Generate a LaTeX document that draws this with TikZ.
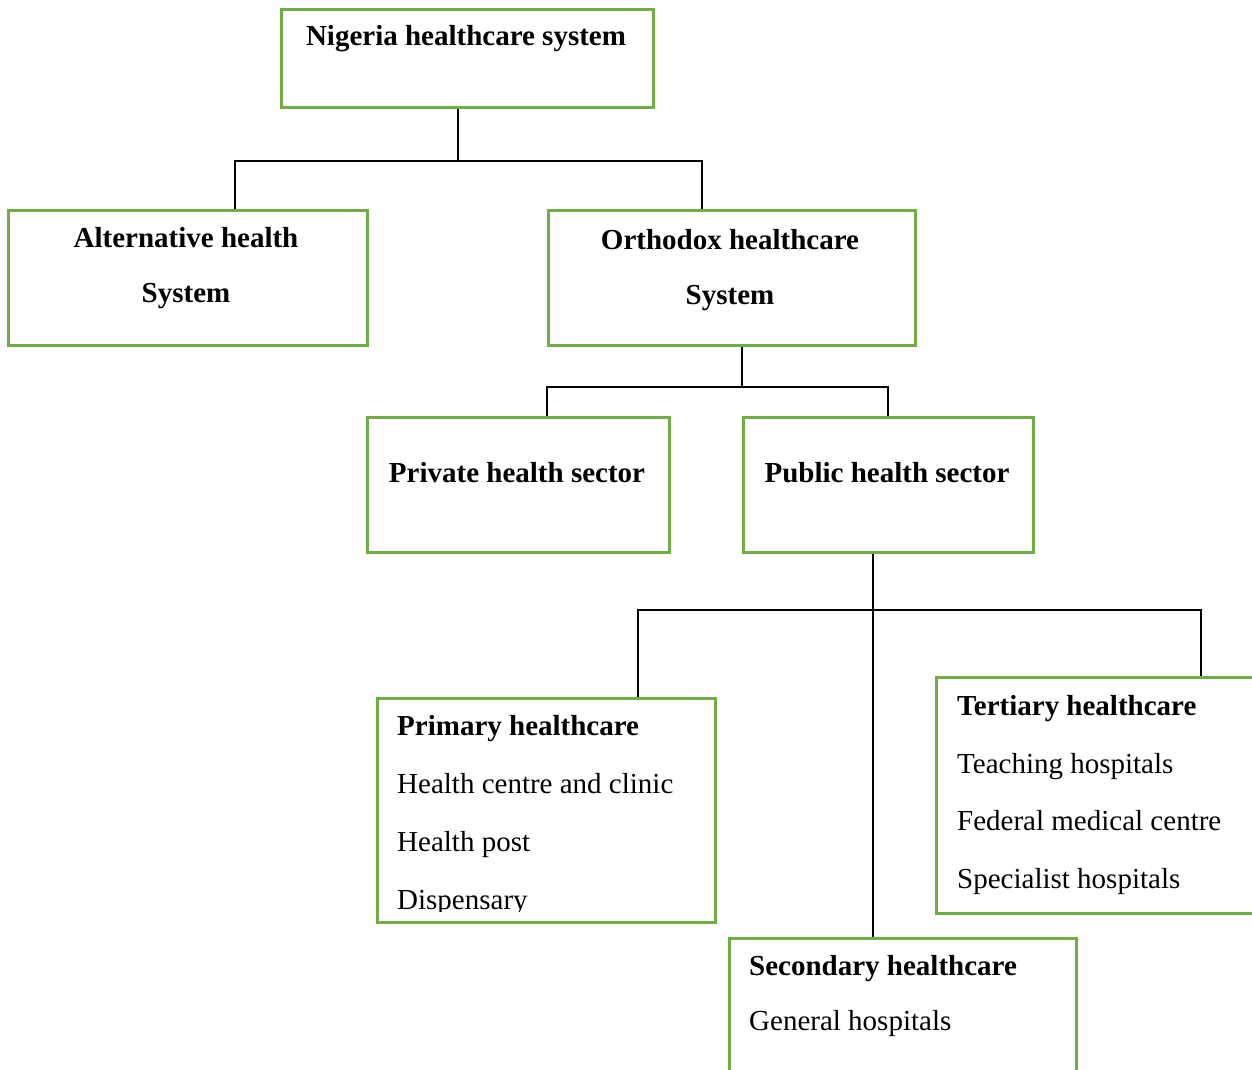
\documentclass[tikz,border=0pt]{standalone}
\usepackage{fontspec}
\setmainfont{Liberation Serif}
\definecolor{boxgreen}{HTML}{70AD47}
\begin{document}
\begin{tikzpicture}[x=1pt,y=-1pt,
  box/.style={draw=boxgreen,line width=2.6pt,rectangle,inner sep=0pt,anchor=north west},
  link/.style={draw=black,line width=1.3pt},
  head/.style={font=\fontsize{29}{34}\selectfont\bfseries,inner sep=0pt,anchor=base},
  item/.style={font=\fontsize{29}{34}\selectfont,inner sep=0pt,anchor=base west},
  headl/.style={head,anchor=base west}]
\useasboundingbox (0,0) rectangle (1252,1070);

% boxes
\node[box,minimum width=372pt,minimum height=98pt] (top) at (280,8) {};
\node[box,minimum width=359pt,minimum height=135pt] (alt) at (7,209) {};
\node[box,minimum width=367pt,minimum height=135pt] (ortho) at (547,209) {};
\node[box,minimum width=302pt,minimum height=135pt] (priv) at (366,416) {};
\node[box,minimum width=290pt,minimum height=135pt] (pub) at (742,416) {};
\node[box,minimum width=338pt,minimum height=224pt] (prim) at (376,697) {};
\node[box,minimum width=330pt,minimum height=236pt] (tert) at (935,676) {};
\node[box,minimum width=347pt,minimum height=150pt] (sec) at (728,937) {};

% box texts
\node[head] (ttop) at (466,46) {Nigeria healthcare system};
\node[head] (talt1) at (186,247) {Alternative health};
\node[head] (talt2) at (186,302) {System};
\node[head] (tortho1) at (730,249) {Orthodox healthcare};
\node[head] (tortho2) at (730,304) {System};
\node[head] (tpriv) at (517,482) {Private health sector};
\node[head] (tpub) at (887,482) {Public health sector};

\begin{scope}
  \clip (376,697) rectangle (714,911);
  \node[headl] (tprim) at (397,735) {Primary healthcare};
  \node[item] (tprim1) at (397,793) {Health centre and clinic};
  \node[item] (tprim2) at (397,851) {Health post};
  \node[item] (tprim3) at (397,909) {Dispensary};
\end{scope}

\node[headl] (ttert) at (957,715) {Tertiary healthcare};
\node[item] (ttert1) at (957,773) {Teaching hospitals};
\node[item] (ttert2) at (957,830) {Federal medical centre};
\node[item] (ttert3) at (957,888) {Specialist hospitals};

\node[headl] (tsec) at (749,975) {Secondary healthcare};
\node[item] (tsec1) at (749,1030) {General hospitals};

% junction points
\coordinate (j1) at (458,161);
\coordinate (j1l) at (235,161);
\coordinate (j1r) at (702,161);
\coordinate (j2) at (742,387);
\coordinate (j2l) at (547,387);
\coordinate (j2r) at (888,387);
\coordinate (j3) at (873,610);
\coordinate (j3l) at (638,610);
\coordinate (j3r) at (1201,610);

% connectors
\draw[link] (j1 |- top.south) -- (j1);
\draw[link] (alt.north -| j1l) -- (j1l) -- (j1r) -- (ortho.north -| j1r);
\draw[link] (j2 |- ortho.south) -- (j2);
\draw[link] (priv.north -| j2l) -- (j2l) -- (j2r) -- (pub.north -| j2r);
\draw[link] (j3 |- pub.south) -- (j3);
\draw[link] (prim.north -| j3l) -- (j3l) -- (j3r) -- (tert.north -| j3r);
\draw[link] (j3) -- (sec.north -| j3);
\end{tikzpicture}
\end{document}
